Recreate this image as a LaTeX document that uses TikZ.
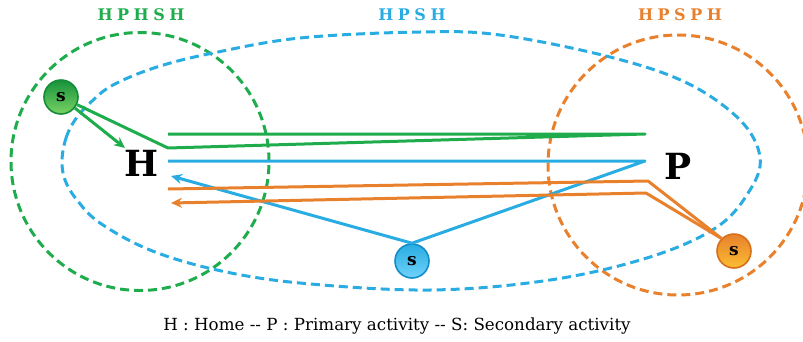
\documentclass[tikz,border=0pt]{standalone}
\usepackage{fontspec}
\setmainfont{DejaVu Serif}
\usetikzlibrary{arrows.meta}
\definecolor{cg}{RGB}{30,172,76}
\definecolor{cb}{RGB}{41,172,226}
\definecolor{co}{RGB}{232,128,44}
\definecolor{cgd}{RGB}{20,140,55}
\definecolor{cgl}{RGB}{120,210,100}
\definecolor{cbd}{RGB}{20,140,200}
\definecolor{cbl}{RGB}{110,210,250}
\definecolor{cod}{RGB}{215,110,30}
\definecolor{col}{RGB}{250,190,50}
\tikzset{
  zone/.style={dashed, dash pattern=on 9pt off 5pt, line width=3pt},
  route/.style={line width=3pt, line join=round},
  tip/.style={-{Stealth[length=11pt,width=10pt]}},
  snode/.style={circle, minimum size=34pt, inner sep=0pt, line width=1.6pt, font=\fontsize{17}{17}\selectfont\bfseries},
  letter/.style={font=\fontsize{36}{36}\selectfont\bfseries, inner sep=0pt},
  title/.style={font=\fontsize{16}{16}\selectfont\bfseries\addfontfeatures{LetterSpace=28}},
}
\begin{document}
\begin{tikzpicture}[x=1pt,y=-1pt]
\useasboundingbox (0,0) rectangle (803,341);
% zones
\draw[zone, cg] (140,161.5) circle[radius=129pt];
\draw[zone, co] (678,165) circle[radius=130pt];
\draw[zone, cb] plot[smooth cycle, tension=0.6] coordinates {
 (62,160) (66,138) (75,120) (90,103) (113,85) (157,67) (213,53) (300,38)
 (420,32) (500,35) (610,57) (687,83) (740,120) (760,157) (750,190)
 (717,227) (650,257) (550,280) (430,290) (300,283) (217,270) (150,250)
 (100,223) (77,200) (65,180)};
% titles
\node[title, text=cg] (t1) at (141,15) {HPHSH};
\node[title, text=cb] (t2) at (412,15) {HPSH};
\node[title, text=co] (t3) at (680,15) {HPSPH};
% main places
\node[letter] (H) at (142,163) {H};
\node[letter] (P) at (678,166) {P};
% secondary nodes
\node[snode, draw=cgd, top color=cgd!80!cg, bottom color=cgl] (gS) at (61,97) {s};
\node[snode, draw=cbd, top color=cb, bottom color=cbl] (bS) at (412,261) {s};
\node[snode, draw=cod, top color=co, bottom color=col] (oS) at (734,251) {s};
% waypoints
\coordinate (g1) at (168,148);
\coordinate (g2) at (645,134);
\coordinate (g3) at (168,134);
\coordinate (gA) at (125,148);
\coordinate (b1) at (168,161);
\coordinate (b2) at (645,161);
\coordinate (bA) at (171,176);
\coordinate (o1) at (168,189);
\coordinate (o2) at (648,181);
\coordinate (o3) at (646,193);
\coordinate (oA) at (171,203);
% routes
\draw[route, cg, tip] (gS) -- (gA);
\draw[route, cg] (gS) -- (g1) -- (g2) -- (g3);
\draw[route, cb] (b1) -- (b2) -- (bS.north);
\draw[route, cb, tip] (bS.north) -- (bA);
\draw[route, co] (o1) -- (o2) -- (oS.north west);
\draw[route, co, tip] (oS.north west) -- (o3) -- (oA);
% legend
\node[font=\fontsize{16.7}{17}\selectfont] (leg) at (397,326) {H : Home -{}- P : Primary activity -{}- S: Secondary activity};
\end{tikzpicture}
\end{document}
